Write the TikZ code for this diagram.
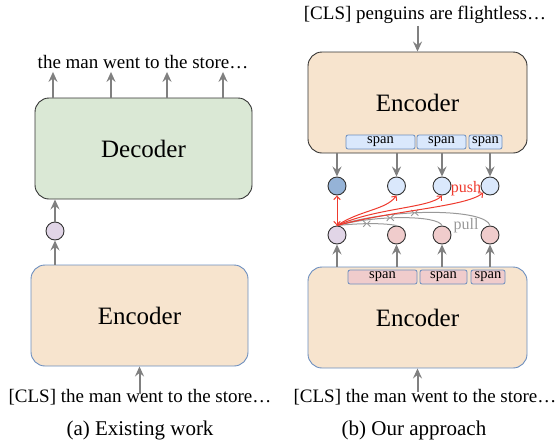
\documentclass[tikz,border=0pt]{standalone}
\usepackage{fontspec}
\setmainfont{Liberation Serif}
\usetikzlibrary{arrows.meta,decorations.markings}
\definecolor{decfill}{HTML}{DAE8D5}
\definecolor{encfill}{HTML}{F7E4CE}
\definecolor{bluedraw}{HTML}{6C8EBF}
\definecolor{darkdraw}{HTML}{333333}
\definecolor{lblue}{HTML}{DAE8FC}
\definecolor{dblue}{HTML}{95B3D7}
\definecolor{lav}{HTML}{E1D5E7}
\definecolor{pinkf}{HTML}{F0CCCC}
\definecolor{garr}{HTML}{808080}
\definecolor{pushred}{HTML}{EE3A2E}
\definecolor{pullgray}{HTML}{999999}
\begin{document}
\begin{tikzpicture}[x=1pt,y=-1pt,
  bigbox/.style={draw, rounded corners=14pt, line width=0.9pt, inner sep=0pt,
    minimum height=101pt, font=\fontsize{25}{30}\selectfont},
  lbl/.style={inner sep=0pt, font=\fontsize{19}{22}\selectfont},
  captxt/.style={inner sep=0pt, font=\fontsize{21}{24}\selectfont},
  spanbox/.style={draw=bluedraw, rounded corners=2pt, line width=0.8pt, inner sep=0pt,
    minimum height=14pt, font=\fontsize{14.5}{16}\selectfont},
  tok/.style={circle, draw=darkdraw, line width=0.9pt, minimum size=18pt, inner sep=0pt},
  garrow/.style={draw=garr, line width=2pt, -{Stealth[length=10pt,width=9pt,inset=3.5pt]}},
  redarr/.style={draw=pushred, line width=1pt, -{Straight Barb[length=3.5pt,width=6.5pt,line width=1pt]}},
  pullline/.style={draw=pullgray, line width=1pt,
    postaction={decorate, decoration={markings,
      mark=at position 0.5 with {\arrow{Straight Barb[length=3pt,width=6pt,line width=0.9pt]}},
      mark=at position 0.5 with {\arrowreversed{Straight Barb[length=3pt,width=6pt,line width=0.9pt]}}}}}
]
\useasboundingbox (0,0) rectangle (559,442);

% ---------- (a) Existing work ----------
\node[bigbox, fill=decfill, draw=darkdraw, minimum width=217pt] (dec) at (143.5,148.5) {Decoder};
\node[bigbox, fill=encfill, draw=bluedraw, minimum width=217pt] (encL) at (139.5,315.5) {Encoder};
\node[lbl] (outL) at (143,62) {the man went to the store\ldots};
\node[tok, fill=lav] (cL) at (55,231) {};
\node[lbl] (inL) at (140,397) {[CLS] the man went to the store\ldots};
\node[captxt] (capA) at (140,430) {(a) Existing work};

\foreach \x in {53,111,167,223}
  \draw[garrow, shorten >=3pt] (dec.north -| \x,0) -- (outL.south -| \x,0);
\draw[garrow] (cL.north) -- (cL.north |- dec.south);
\draw[garrow] (encL.north -| cL) -- (cL.south);
\draw[garrow] ([yshift=-5pt]encL.south |- inL.north) -- (encL.south);

% ---------- (b) Our approach ----------
\node[lbl] (inT) at (425,15) {[CLS] penguins are flightless\ldots};
\node[bigbox, fill=encfill, draw=darkdraw, minimum width=219pt] (encT) at (417.5,102.5) {Encoder};
\node[bigbox, fill=encfill, draw=bluedraw, minimum width=219pt] (encB) at (417.5,317.5) {Encoder};
\node[lbl] (inB) at (425,397) {[CLS] the man went to the store\ldots};
\node[captxt] (capB) at (414,430) {(b) Our approach};

\node[spanbox, fill=lblue, minimum width=69pt] (sT1) at (380.5,142) {span};
\node[spanbox, fill=lblue, minimum width=49pt] (sT2) at (441.5,142) {span};
\node[spanbox, fill=lblue, minimum width=33pt] (sT3) at (485.5,142) {span};
\node[spanbox, fill=pinkf, minimum width=69pt] (sB1) at (382.5,277) {span};
\node[spanbox, fill=pinkf, minimum width=47pt] (sB2) at (443.5,277) {span};
\node[spanbox, fill=pinkf, minimum width=34pt] (sB3) at (488,277) {span};

\node[tok, fill=dblue] (t1) at (337,186) {};
\node[tok, fill=lblue] (t2) at (396.5,186) {};
\node[tok, fill=lblue] (t3) at (442,186) {};
\node[tok, fill=lblue] (t4) at (490,186) {};
\node[tok, fill=lav] (b1) at (337,235) {};
\node[tok, fill=pinkf] (b2) at (396.5,235) {};
\node[tok, fill=pinkf] (b3) at (442,235) {};
\node[tok, fill=pinkf] (b4) at (490,235) {};

\draw[garrow, shorten <=2pt] (inT.south -| encT.north) -- (encT.north);
\foreach \t in {t1,t2,t3,t4}
  \draw[garrow] (encT.south -| \t) -- (\t.north);
\foreach \b in {b1,b2,b3,b4}
  \draw[garrow] (encB.north -| \b) -- (\b.south);
\draw[garrow] ([yshift=-3pt]encB.south |- inB.north) -- (encB.south);

% pull (gray)
\draw[pullline] (b2.north) .. controls (385,223) and (360,223) .. (b1.north);
\draw[pullline] (b3.north) .. controls (438,215) and (375,215) .. (b1.north);
\draw[pullline] (b4.north) .. controls (486,209) and (395,207) .. (b1.north);
\node[inner sep=0pt, text=pullgray, font=\fontsize{16}{18}\selectfont] (pull) at (466,226) {pull};

% push (red)
\draw[redarr, {Straight Barb[length=3.5pt,width=6.5pt,line width=1pt]}-{Straight Barb[length=3.5pt,width=6.5pt,line width=1pt]}] (b1.north) -- (t1.south);
\draw[redarr] (b1.north) .. controls (360,210) and (386,210) .. (t2.south);
\draw[redarr] (b1.north) .. controls (375,208) and (430,208) .. (t3.south);
\draw[redarr] (b1.north) .. controls (395,210) and (465,207) .. (t4.south west);
\node[inner sep=0pt, text=pushred, font=\fontsize{16}{18}\selectfont] (push) at (466,189) {push};
\end{tikzpicture}
\end{document}
